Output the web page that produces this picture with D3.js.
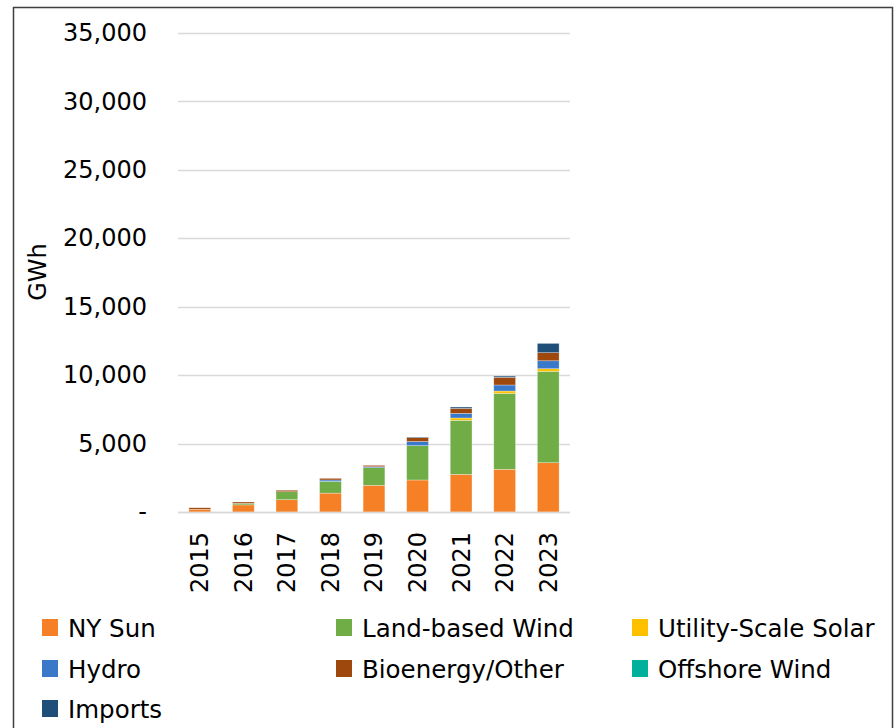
<!DOCTYPE html>
<html>
<head>
<meta charset="utf-8">
<script src="https://cdn.jsdelivr.net/npm/d3@7"></script>
<style>
  html, body { margin: 0; padding: 0; background: #fff; }
  svg { display: block; }
  text { font-family: "DejaVu Sans", sans-serif; fill: #000; }
</style>
</head>
<body>
<svg id="chart" width="894" height="728"></svg>
<script>
// Renewable generation by year (GWh), stacked by resource
const years = ["2015", "2016", "2017", "2018", "2019", "2020", "2021", "2022", "2023"];
const nySun        = [200, 520, 900, 1380, 1950, 2340, 2750, 3120, 3600];
const landWind     = [0, 110, 580, 860, 1290, 2510, 3950, 5550, 6680];
const utilitySolar = [0, 0, 0, 0, 0, 0, 170, 170, 190];
const hydro        = [0, 0, 0, 100, 70, 300, 340, 440, 580];
const bioenergy    = [110, 100, 110, 120, 100, 290, 360, 560, 590];
const offshoreWind = [0, 0, 0, 0, 0, 0, 0, 0, 0];
const imports      = [0, 0, 0, 0, 0, 40, 100, 90, 680];

const seriesNames  = ["NY Sun", "Land-based Wind", "Utility-Scale Solar", "Hydro", "Bioenergy/Other", "Offshore Wind", "Imports"];
const seriesValues = [nySun, landWind, utilitySolar, hydro, bioenergy, offshoreWind, imports];
const seriesColors = ["#f58025", "#70ad47", "#ffc000", "#3a78c9", "#9e480e", "#00b09b", "#1f4e79"];
const yTicks = [0, 5000, 10000, 15000, 20000, 25000, 30000, 35000];

const svg = d3.select("#chart");

// outer frame
svg.append("rect")
  .attr("x", 13.5).attr("y", 7.5)
  .attr("width", 879).attr("height", 730)
  .attr("fill", "none").attr("stroke", "#3f3f3f").attr("stroke-width", 1.5);

const plot = { left: 178, right: 570, top: 33, bottom: 512 };

const x = d3.scaleBand().domain(years).range([plot.left, plot.right]).paddingInner(0.5).paddingOuter(0.25);
const y = d3.scaleLinear().domain([0, 35000]).range([plot.bottom, plot.top]);

// gridlines
svg.append("g")
  .selectAll("line")
  .data(yTicks)
  .join("line")
  .attr("x1", plot.left).attr("x2", plot.right)
  .attr("y1", d => Math.round(y(d)) + 0.5).attr("y2", d => Math.round(y(d)) + 0.5)
  .attr("stroke", "#d9d9d9").attr("stroke-width", 1.5);

// y axis labels
const fmt = d3.format(",");
const yAxis = d3.axisLeft(y).tickValues(yTicks).tickSize(0).tickPadding(0)
  .tickFormat(d => d === 0 ? "-" : fmt(d));
const gy = svg.append("g").attr("transform", `translate(147,0)`).call(yAxis);
gy.select(".domain").remove();
gy.selectAll("text").attr("font-size", 24).attr("font-family", "DejaVu Sans, sans-serif").attr("fill", "#000");

// stacked bars
const table = years.map((yr, i) => {
  const row = { year: yr };
  seriesNames.forEach((n, k) => { row[n] = seriesValues[k][i]; });
  return row;
});
const stacked = d3.stack().keys(seriesNames)(table);

svg.append("g")
  .selectAll("g")
  .data(stacked)
  .join("g")
  .attr("fill", (d, i) => seriesColors[i])
  .selectAll("rect")
  .data(d => d)
  .join("rect")
  .attr("x", d => x(d.data.year))
  .attr("width", x.bandwidth())
  .attr("y", d => y(d[1]))
  .attr("height", d => Math.max(0, y(d[0]) - y(d[1])))
  .attr("stroke", "#ffffff").attr("stroke-opacity", 0.5).attr("stroke-width", 0.6);

// x baseline
svg.append("line")
  .attr("x1", plot.left).attr("x2", plot.right)
  .attr("y1", plot.bottom + 0.5).attr("y2", plot.bottom + 0.5)
  .attr("stroke", "#d9d9d9").attr("stroke-width", 1.5);

// x axis labels, rotated
const xAxis = d3.axisBottom(x).tickSize(0).tickPadding(0);
const gx = svg.append("g").attr("transform", `translate(0,${plot.bottom})`).call(xAxis);
gx.select(".domain").remove();
gx.selectAll("text")
  .attr("font-size", 24)
  .attr("font-family", "DejaVu Sans, sans-serif")
  .attr("fill", "#000")
  .attr("text-anchor", "end")
  .attr("dy", "0.35em")
  .attr("transform", "translate(0,20) rotate(-90)")
  .attr("x", 0).attr("y", 0);

// y axis title
svg.append("text")
  .attr("transform", "translate(46,272) rotate(-90)")
  .attr("text-anchor", "middle")
  .attr("font-size", 24)
  .text("GWh");

// legend
const legendCols = [42, 336, 632];
const legendRows = [628, 669, 709];
const legend = svg.append("g")
  .selectAll("g")
  .data(seriesNames)
  .join("g")
  .attr("transform", (d, i) => `translate(${legendCols[i % 3]},${legendRows[Math.floor(i / 3)]})`);
legend.append("rect")
  .attr("x", 0).attr("y", -9).attr("width", 16).attr("height", 17)
  .attr("fill", (d, i) => seriesColors[i]);
legend.append("text")
  .attr("x", 26).attr("y", 0).attr("dy", "0.36em")
  .attr("font-size", 24.5)
  .text(d => d);
</script>
</body>
</html>
